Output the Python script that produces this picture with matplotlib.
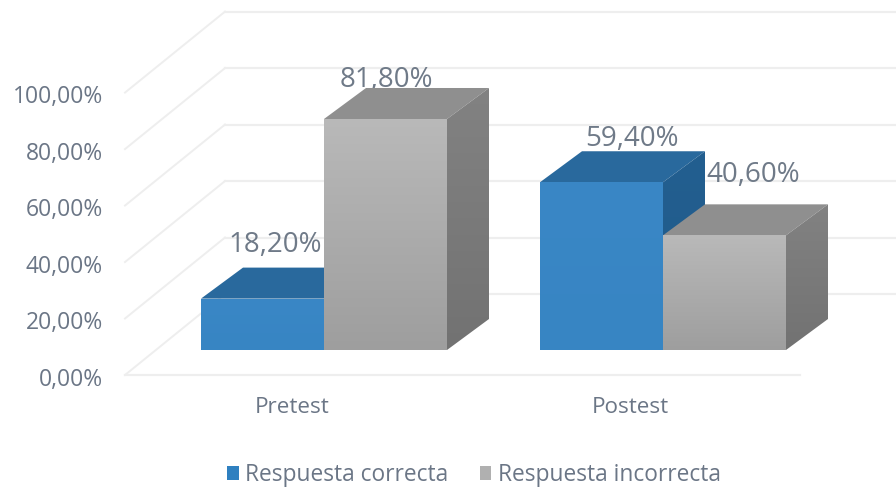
import numpy as np
import matplotlib
matplotlib.use("Agg")
import matplotlib.pyplot as plt
from matplotlib.colors import LinearSegmentedColormap
from matplotlib.patches import Polygon

categories = ["Pretest", "Postest"]
series_names = ["Respuesta correcta", "Respuesta incorrecta"]
correct = [18.2, 59.4]
incorrect = [81.8, 40.6]
ticks = [0, 20, 40, 60, 80, 100]

W, H = 896, 490
PX_X = 339.0      # pixels per category step
PX_Y = 2.824      # pixels per percentage point
BAR_W = 123 / PX_X
DX, DY = 42 / PX_X, 31 / PX_Y               # bar depth
FLOOR = -25 / PX_Y                           # front floor line relative to bar base
WALL_DX, WALL_DY = 100 / PX_X, 81 / PX_Y     # wall depth
LEFT = -199 / PX_X                           # front-left corner of the floor
RIGHT = 476 / PX_X                           # front-right end of the floor
TXT = "#6b7686"
GRID = "#eeeeee"

plt.rcParams["font.family"] = ["Open Sans", "DejaVu Sans"]
fig = plt.figure(figsize=(W / 100, H / 100), dpi=100)
ax = fig.add_axes([0, 0, 1, 1])
XLIM = (-324 / PX_X, (W - 324) / PX_X)
YLIM = ((350 - H) / PX_Y, 350 / PX_Y)
ax.axis("off")

# Gridlines: front floor line, diagonals and back wall
for i, t in enumerate(ticks):
    y = t + FLOOR
    ax.plot([LEFT, LEFT + WALL_DX], [y, y + WALL_DY], color=GRID, lw=1.4, zorder=1)
    ax.plot([LEFT + WALL_DX, XLIM[1]], [y + WALL_DY] * 2, color=GRID, lw=1.6, zorder=1)
    ax.text(LEFT - 22 / PX_X, y - 4.5 / PX_Y, f"{t:.2f}".replace(".", ",") + "%", ha="right", va="center",
            fontsize=16.5, color=TXT, zorder=5)
ax.plot([LEFT, RIGHT], [FLOOR, FLOOR], color=GRID, lw=1.6, zorder=1)


def shaded(poly, top, bottom, z, horizontal=False):
    cmap = LinearSegmentedColormap.from_list("s", [top, bottom])
    grad = np.linspace(0, 1, 256).reshape(-1, 1)
    if horizontal:
        grad = grad.T
    xs, ys = zip(*poly)
    im = ax.imshow(grad, cmap=cmap, aspect="auto", origin="upper", zorder=z,
                   extent=(min(xs), max(xs), min(ys), max(ys)), vmin=0, vmax=1)
    p = Polygon(poly, closed=True, transform=ax.transData, fc="none", ec="none")
    ax.add_patch(p)
    im.set_clip_path(p)


def box(x0, v, front_top, front_bottom, top_col, side_top, side_bottom, z):
    x1 = x0 + BAR_W
    ax.fill([x0, x1, x1 + DX, x0 + DX], [v, v, v + DY, v + DY], color=top_col, lw=0, zorder=z)
    shaded([(x1, 0), (x1 + DX, DY), (x1 + DX, v + DY), (x1, v)], side_top, side_bottom, z)
    shaded([(x0, 0), (x1, 0), (x1, v), (x0, v)], front_top, front_bottom, z + 0.1)


for i in range(len(categories)):
    box(i - BAR_W, correct[i], "#3a87c6", "#3785c3", "#29699d", "#235f90", "#205a8a", 2 + i)
    box(i, incorrect[i], "#b9b9b9", "#9e9e9e", "#8f8f8f", "#828282", "#727272", 2.5 + i)

# Data labels, drawn behind the bars as in the reference
label_pos = [
    (-0.145, correct[0], 54), (0.183, incorrect[0], 39),
    (0.909, correct[1], 43), (1.265, incorrect[1], 60),
]
for (x, v, dy), txt in zip(label_pos, [correct[0], incorrect[0], correct[1], incorrect[1]]):
    ax.annotate(f"{txt:.2f}".replace(".", ",") + "%", (x, v), xytext=(0, dy * 0.72),
                textcoords="offset points", ha="center", va="center",
                fontsize=20, color="#6f7a88", zorder=1.5)

# Category labels
for i, c in enumerate(categories):
    ax.text(i - 0.095, FLOOR - 32 / PX_Y, c, ha="center", va="center", fontsize=16.2, color=TXT, zorder=5)

# Legend
h1 = ax.bar([0], [0], color="#2f80c0", label=series_names[0])
h2 = ax.bar([0], [0], color="#b0b0b0", label=series_names[1])
ax.legend(loc="center", bbox_to_anchor=(474 / W, 1 - 475 / H), ncol=2, frameon=False,
          fontsize=16.4, labelcolor=TXT, handlelength=0.5, handleheight=0.55,
          handletextpad=0.27, columnspacing=1.4, borderpad=0)

ax.set_xlim(*XLIM)
ax.set_ylim(*YLIM)
fig.savefig("out.png", dpi=100, facecolor="white")
